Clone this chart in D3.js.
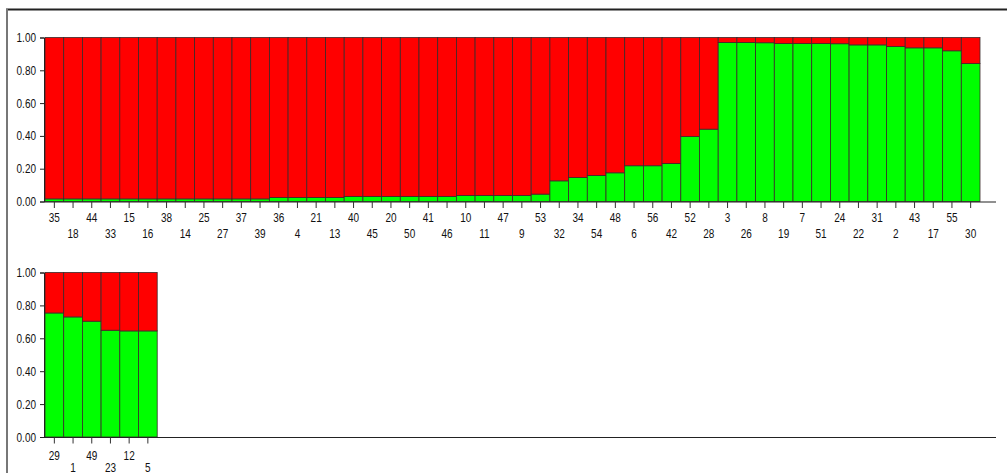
<!DOCTYPE html>
<html>
<head>
<meta charset="utf-8">
<script src="https://cdn.jsdelivr.net/npm/d3@7"></script>
<style>
  html, body { margin: 0; padding: 0; background: #fff; }
  svg { display: block; }
  text { font-family: "Liberation Sans", Arial, sans-serif; font-size: 12.5px; fill: #111; }
</style>
</head>
<body>
<svg id="chart" width="1007" height="473"></svg>
<script>
// ---- data ----
const labelsTop = [35,18,44,33,15,16,38,14,25,27,37,39,36,4,21,13,40,45,20,50,41,46,10,11,47,9,53,32,34,54,48,6,56,42,52,28,3,26,8,19,7,51,24,22,31,2,43,17,55,30];
const greenTop = [0.016,0.016,0.016,0.016,0.016,0.016,0.016,0.016,0.016,0.016,0.016,0.016,
                  0.025,0.025,0.025,0.025,
                  0.031,0.031,0.031,0.031,0.031,0.031,
                  0.037,0.037,0.037,0.037,0.045,
                  0.126,0.146,0.159,0.175,0.218,0.218,0.232,0.396,0.441,
                  0.970,0.970,0.968,0.963,0.963,0.963,0.962,0.955,0.955,0.945,0.937,0.937,0.919,0.841];
const labelsBottom = [29,1,49,23,12,5];
const greenBottom = [0.754,0.730,0.704,0.649,0.645,0.645];
const yTicks = [0,0.2,0.4,0.6,0.8,1.0];

const RED = "#ff0000", GREEN = "#00ff00", EDGE = "#3a2a2a";
const SX = 0.8; // narrow-font emulation
const svg = d3.select("#chart");

// frame
svg.append("line").attr("x1",6).attr("x2",1007).attr("y1",9.5).attr("y2",9.5)
  .attr("stroke","#222").attr("stroke-width",2);
svg.append("line").attr("x1",7).attr("x2",7).attr("y1",9).attr("y2",473)
  .attr("stroke","#777").attr("stroke-width",2);

const step = 18.7;
const x0 = 45;

function panel(labels, green, yTop, yBottom, row1, row2) {
  const x = d3.scaleBand().domain(d3.range(labels.length))
    .range([x0, x0 + labels.length * step]).padding(0);
  const y = d3.scaleLinear().domain([0,1]).range([yBottom, yTop]);
  const g = svg.append("g");

  const bars = g.selectAll("g.bar").data(green).join("g").attr("class","bar");
  bars.append("rect")
    .attr("x",(d,i)=>x(i)).attr("width",x.bandwidth())
    .attr("y",d=>y(d)).attr("height",d=>y(0)-y(d))
    .attr("fill",GREEN).attr("stroke",EDGE).attr("stroke-width",0.8);
  bars.append("rect")
    .attr("x",(d,i)=>x(i)).attr("width",x.bandwidth())
    .attr("y",y(1)).attr("height",d=>y(d)-y(1))
    .attr("fill",RED).attr("stroke",EDGE).attr("stroke-width",0.8);

  // y axis
  const yAxis = d3.axisLeft(y).tickValues(yTicks).tickFormat(d3.format(".2f")).tickSize(4).tickPadding(4);
  const ya = g.append("g").attr("transform",`translate(${x0-1},0)`).call(yAxis);
  ya.select(".domain").attr("stroke","#222");
  ya.selectAll(".tick line").attr("stroke","#222");
  ya.selectAll("text").style("font-size","12.5px").attr("fill","#111")
    .attr("x", -8 / SX).attr("transform",`scale(${SX},1)`);

  // x axis baseline
  g.append("line").attr("x1",x0-1).attr("x2",996).attr("y1",y(0)+0.5).attr("y2",y(0)+0.5)
    .attr("stroke","#222").attr("stroke-width",1.2);

  // x ticks + alternating labels
  const xAxis = d3.axisBottom(x).tickSize(6).tickFormat((d)=>labels[d]);
  const xa = g.append("g").attr("transform",`translate(0,${y(0)+0.5})`).call(xAxis);
  xa.select(".domain").remove();
  xa.selectAll(".tick line").attr("stroke","#333");
  xa.selectAll(".tick text")
    .attr("y",(d)=> d % 2 === 0 ? row1 : row2)
    .attr("x",0)
    .attr("transform",`scale(${SX},1)`)
    .attr("fill","#111")
    .style("font-size","12.5px");
}

panel(labelsTop, greenTop, 37.5, 201.5, 11, 27);
panel(labelsBottom, greenBottom, 272.5, 437, 14, 25.5);
</script>
</body>
</html>
